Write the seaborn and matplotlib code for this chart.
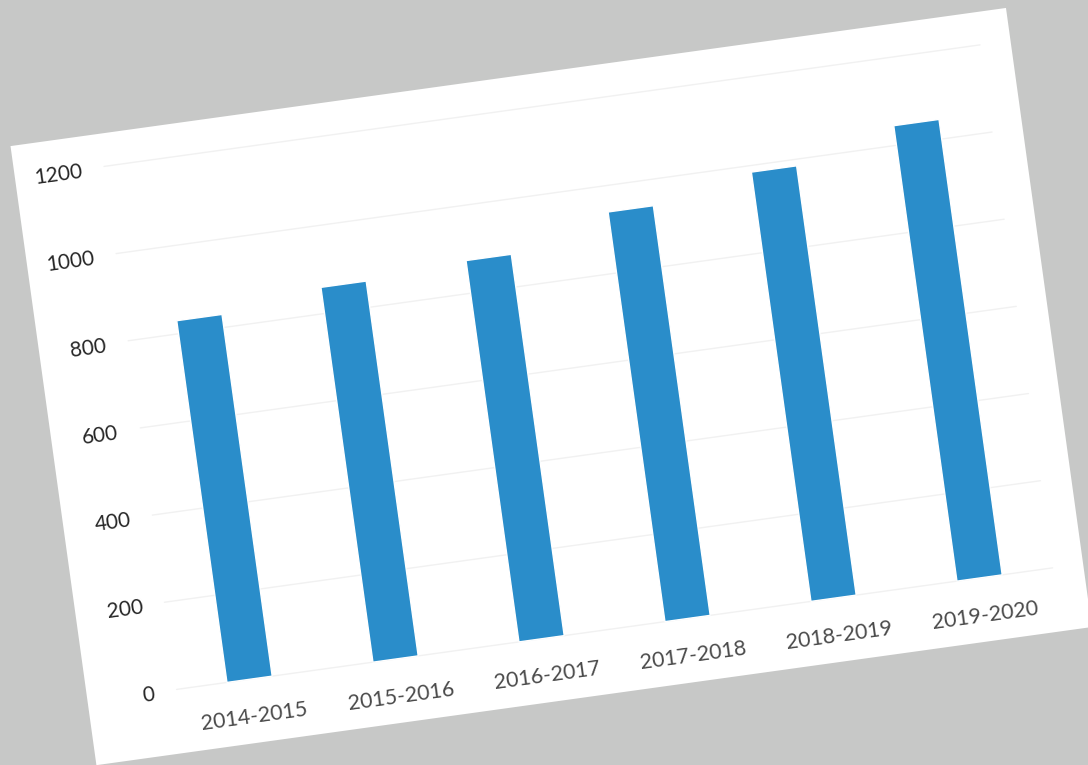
import pandas as pd
import seaborn as sns
import matplotlib
matplotlib.use('Agg')
import matplotlib.pyplot as plt
from matplotlib.patches import Rectangle
from matplotlib.transforms import Affine2D

# Data
years = ['2014-2015', '2015-2016', '2016-2017', '2017-2018', '2018-2019', '2019-2020']
counts = [830, 860, 875, 940, 985, 1045]
y_ticks = [0, 200, 400, 600, 800, 1000, 1200]

df = pd.DataFrame({'year': years, 'count': counts})

sns.set_theme(style='white')
plt.rcParams['font.family'] = ['Lato', 'DejaVu Sans']

W, H = 1088, 765
fig = plt.figure(figsize=(W / 100, H / 100), dpi=100, facecolor='#c7c8c7')

# the sheet in the photo is tilted about 8 degrees, so everything gets
# rotated around the image centre (display pixels)
angle = 7.9
rot = Affine2D().rotate_deg_around(544, 383, angle)

# white sheet of paper
sheet = Rectangle((48, H - 700), 1005, 625, transform=rot,
                  facecolor='white', edgecolor='none', zorder=-1)
fig.add_artist(sheet)

ax = fig.add_axes([137.8 / W, (H - 636) / H, 884.4 / W, 528 / H])
sns.barplot(data=df, x='year', y='count', color='#2a8dca', width=0.31,
            saturation=1, ax=ax)
ax.set_ylim(0, 1200)
ax.set_yticks(y_ticks)
ax.set_xlabel('')
ax.set_ylabel('')
ax.patch.set_visible(False)
for s in ax.spines.values():
    s.set_visible(False)
ax.grid(False)
ax.tick_params(axis='both', length=0)
ax.tick_params(axis='y', pad=16, labelsize=15, labelcolor='#262626')
ax.tick_params(axis='x', pad=20, labelsize=15.5, labelcolor='#4a4a4a')

# faint gridlines
for v in y_ticks:
    ax.axhline(v, color='#f1f1f1', lw=1, zorder=0)

# draw once so the ticks exist, then tilt every artist
fig.canvas.draw()
for p in ax.patches:
    p.set_transform(p.get_data_transform() + rot)
    p.set_clip_on(False)
for ln in ax.lines:
    ln.set_transform(ln.get_transform() + rot)
    ln.set_clip_on(False)
for t in ax.get_xticklabels() + ax.get_yticklabels():
    t.set_transform(t.get_transform() + rot)
    t.set_rotation(angle)
    t.set_rotation_mode('anchor')

fig.savefig('out.png', dpi=100, facecolor=fig.get_facecolor())
